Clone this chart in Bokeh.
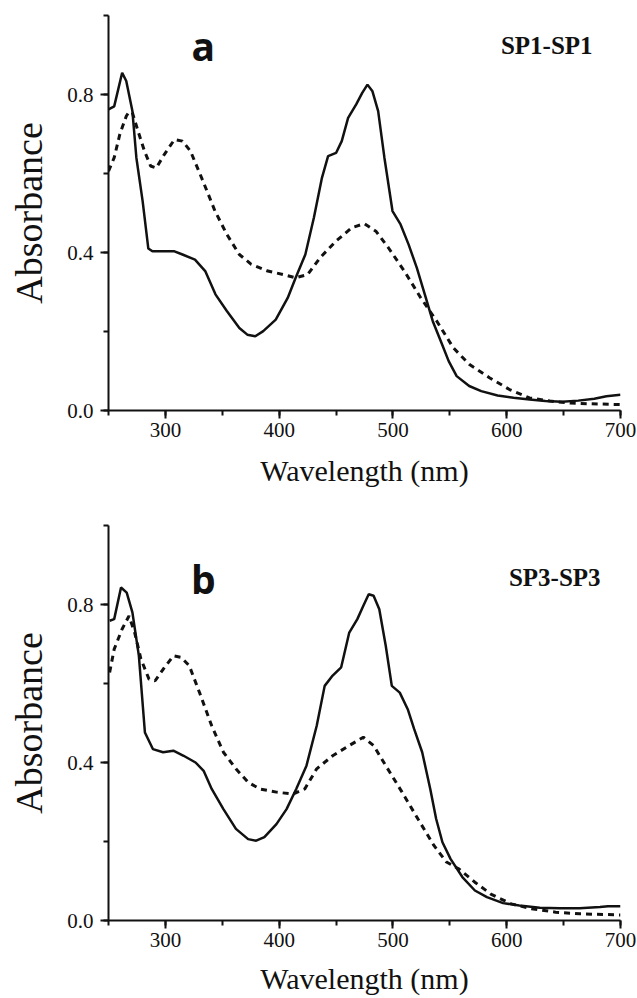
from bokeh.plotting import figure
from bokeh.layouts import column
from bokeh.models import Range1d, SingleIntervalTicker, PrintfTickFormatter, Label
from bokeh.embed import file_html
from bokeh.resources import INLINE

# ---- data ----
wl_a_solid = [250, 255, 262, 265.6, 271, 274.5, 280, 285, 288.6, 301, 308, 315, 326, 335, 344, 354, 365, 372, 379,
              386, 397, 407.5, 414.5, 423, 430.5, 437.6, 443, 450, 455, 460.6, 467.7, 473, 477.6, 482, 487, 492.5,
              499.6, 506.7, 513.8, 521, 528, 535, 542, 549, 556, 567, 577.6, 592, 606, 620, 634, 648.6, 662.8, 677,
              687.6, 700]
abs_a_solid = [0.762, 0.770, 0.855, 0.834, 0.758, 0.640, 0.530, 0.410, 0.403, 0.403, 0.403, 0.395, 0.382, 0.353, 0.294,
               0.252, 0.209, 0.192, 0.188, 0.201, 0.230, 0.285, 0.336, 0.395, 0.488, 0.589, 0.644, 0.652, 0.682, 0.741,
               0.775, 0.804, 0.825, 0.808, 0.758, 0.640, 0.505, 0.471, 0.420, 0.361, 0.294, 0.226, 0.176, 0.125, 0.087,
               0.062, 0.049, 0.038, 0.032, 0.028, 0.024, 0.022, 0.025, 0.030, 0.036, 0.040]

wl_a_dash = [250, 255, 260, 265.6, 268, 271, 276, 281.6, 287, 292, 299, 308, 315, 322, 333, 343.6, 354, 365, 375.5,
             390, 404, 414.5, 425, 436, 450, 464, 475, 485, 496, 510, 524.5, 538.6, 553, 567, 584.8, 602.5, 620, 638,
             655.7, 673, 700]
abs_a_dash = [0.606, 0.640, 0.700, 0.745, 0.756, 0.754, 0.707, 0.657, 0.619, 0.614, 0.648, 0.686, 0.682, 0.657, 0.581,
              0.505, 0.446, 0.395, 0.370, 0.353, 0.344, 0.336, 0.344, 0.387, 0.429, 0.463, 0.473, 0.454, 0.412, 0.353,
              0.285, 0.226, 0.159, 0.117, 0.083, 0.053, 0.032, 0.024, 0.019, 0.017, 0.015]

wl_b_solid = [251, 255, 261, 266, 271, 276.7, 282, 289, 298, 307, 316, 326.5, 333.6, 340.7, 351, 362, 372.7, 379.8,
              387, 397.6, 406.5, 415, 424, 433, 440, 447, 454.5, 461.6, 468.7, 474, 478.7, 483, 488, 493.7, 499, 506,
              513, 518.6, 525.7, 532.8, 538, 543.5, 550.6, 561, 572, 582.6, 596.8, 611, 629, 646.6, 664, 682, 689, 700]
abs_b_solid = [0.759, 0.763, 0.843, 0.830, 0.780, 0.670, 0.476, 0.434, 0.426, 0.430, 0.417, 0.400, 0.379, 0.333, 0.282,
               0.232, 0.206, 0.202, 0.211, 0.244, 0.282, 0.333, 0.392, 0.493, 0.594, 0.620, 0.641, 0.729, 0.763, 0.797,
               0.826, 0.822, 0.788, 0.695, 0.594, 0.577, 0.535, 0.485, 0.426, 0.333, 0.257, 0.198, 0.156, 0.110, 0.076,
               0.059, 0.044, 0.038, 0.032, 0.031, 0.031, 0.034, 0.036, 0.036]

wl_b_dash = [251, 255, 262, 268, 273, 278.5, 285.6, 291, 298, 307, 314, 321, 330, 340.7, 351, 362, 372.7, 383, 397.6,
             412, 422.5, 433, 447, 461.6, 474, 483, 493.7, 508, 522, 536, 547, 557.7, 572, 586, 604, 621.7, 643, 664,
             700]
abs_b_dash = [0.628, 0.687, 0.738, 0.771, 0.729, 0.662, 0.611, 0.607, 0.636, 0.670, 0.666, 0.645, 0.577, 0.493, 0.426,
              0.384, 0.350, 0.333, 0.325, 0.320, 0.333, 0.384, 0.417, 0.443, 0.464, 0.443, 0.392, 0.325, 0.257, 0.190,
              0.148, 0.131, 0.097, 0.067, 0.042, 0.030, 0.021, 0.017, 0.014]

panel_letters = ["a", "b"]
panel_titles = ["SP1-SP1", "SP3-SP3"]
x_label = "Wavelength (nm)"
y_label = "Absorbance"

TICK_FONT = "Liberation Sans Narrow"
SERIF = "Liberation Serif"


def make_panel(wl_s, ab_s, wl_d, ab_d, letter, title, height, borders, letter_pos, title_pos, xlab_standoff):
    left, right, top, bottom = borders
    p = figure(width=637, height=height, output_backend="svg", toolbar_location=None,
               x_range=Range1d(250, 700), y_range=Range1d(0, 1.0),
               min_border_left=left, min_border_right=right, min_border_top=top, min_border_bottom=bottom)
    p.outline_line_color = None
    p.grid.visible = False
    p.background_fill_color = "white"
    p.border_fill_color = "white"

    p.xaxis.ticker = SingleIntervalTicker(interval=100, num_minor_ticks=2)
    p.yaxis.ticker = SingleIntervalTicker(interval=0.4, num_minor_ticks=2)
    p.yaxis.formatter = PrintfTickFormatter(format="%.1f")

    for ax in (p.xaxis[0], p.yaxis[0]):
        ax.axis_line_width = 2
        ax.axis_line_color = "#111111"
        ax.major_tick_line_width = 2
        ax.minor_tick_line_width = 2
        ax.major_tick_line_color = "#111111"
        ax.minor_tick_line_color = "#111111"
        ax.major_tick_in = 0
        ax.major_tick_out = 8
        ax.minor_tick_in = 0
        ax.minor_tick_out = 5
        ax.major_label_text_font = TICK_FONT
        ax.major_label_text_font_size = "21px"
        ax.major_label_text_color = "#111111"
        ax.axis_label_text_font = SERIF
        ax.axis_label_text_font_style = "normal"
        ax.axis_label_text_color = "#111111"

    p.xaxis.axis_label = x_label
    p.xaxis.axis_label_text_font_size = "30px"
    p.xaxis.major_label_standoff = 4
    p.xaxis.axis_label_standoff = xlab_standoff

    p.yaxis.axis_label = y_label
    p.yaxis.axis_label_text_font_size = "38px"
    p.yaxis.major_label_standoff = 7
    p.yaxis.axis_label_standoff = 14

    p.line(wl_s, ab_s, line_color="#111111", line_width=2.5)
    p.line(wl_d, ab_d, line_color="#111111", line_width=3, line_dash="6 5")

    p.add_layout(Label(x=letter_pos[0], y=letter_pos[1], text=letter, text_font="Open Sans",
                       text_font_style="bold", text_font_size="39px", text_color="#111111",
                       text_align="left", text_baseline="alphabetic"))
    p.add_layout(Label(x=title_pos[0], y=title_pos[1], text=title, text_font=SERIF,
                       text_font_style="bold", text_font_size="25px", text_color="#111111",
                       text_align="right", text_baseline="alphabetic"))
    return p


pa = make_panel(wl_a_solid, abs_a_solid, wl_a_dash, abs_a_dash, panel_letters[0], panel_titles[0],
                500, (104, 17, 15, 90), (323.0, 0.925), (675.5, 0.925), 14)
pb = make_panel(wl_b_solid, abs_b_solid, wl_b_dash, abs_b_dash, panel_letters[1], panel_titles[1],
                498, (108, 15, 25, 78), (322.5, 0.865), (682.5, 0.868), 12)

layout = column(pa, pb, spacing=0)
open("out.html", "w").write(file_html(layout, INLINE))
